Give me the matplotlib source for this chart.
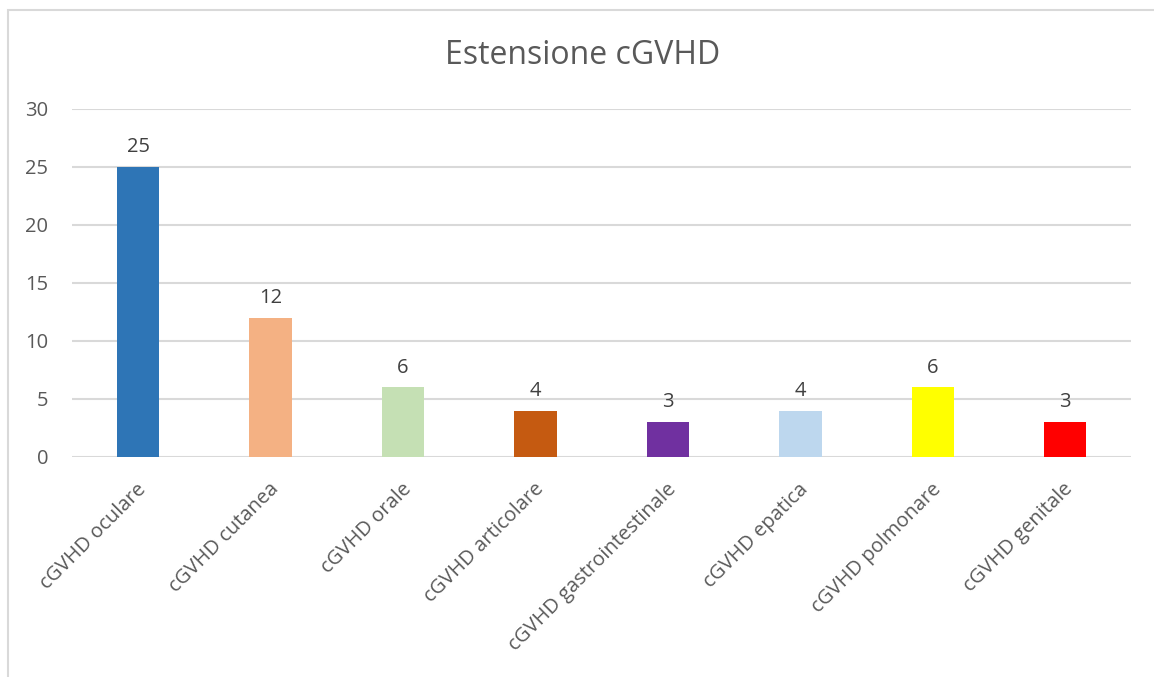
import matplotlib.pyplot as plt
import matplotlib.transforms as mtransforms
from matplotlib.patches import Rectangle

categories = ["cGVHD oculare", "cGVHD cutanea", "cGVHD orale", "cGVHD articolare",
              "cGVHD gastrointestinale", "cGVHD epatica", "cGVHD polmonare", "cGVHD genitale"]
values = [25, 12, 6, 4, 3, 4, 6, 3]
colors = ["#2E75B6", "#F4B183", "#C5E0B4", "#C55A11", "#7030A0", "#BDD7EE", "#FFFF00", "#FF0000"]
yticks = [0, 5, 10, 15, 20, 25, 30]

plt.rcParams['font.family'] = ['Open Sans', 'DejaVu Sans']
txt = "#595959"

fig = plt.figure(figsize=(11.54, 6.77), dpi=100)
ax = fig.add_axes([0.0624, 0.325, 0.918, 0.514])

x = range(len(categories))
ax.bar(x, values, width=0.32, color=colors, zorder=3)
for i, v in zip(x, values):
    ax.annotate(str(v), (i, v), xytext=(0, 7), textcoords="offset points",
                ha="center", va="bottom", fontsize=14.5, color="#404040")

ax.set_xlim(-0.5, len(categories) - 0.5)
ax.set_ylim(0, 30)
ax.set_yticks(yticks)
ax.yaxis.grid(True, color="#d9d9d9", linewidth=1.5, zorder=0)
ax.set_xticks(list(x))
ax.set_xticklabels(categories, rotation=45, ha="right", rotation_mode="anchor",
                   fontsize=14.5, color=txt)
ax.tick_params(axis="y", labelsize=14.5, labelcolor=txt, length=0, pad=17)
ax.tick_params(axis="x", length=0, pad=16)
shift = mtransforms.ScaledTranslation(-2 / 100, 0, fig.dpi_scale_trans)
for lab in ax.get_xticklabels():
    lab.set_transform(lab.get_transform() + shift)
for s in ax.spines.values():
    s.set_visible(False)

fig.text(0.505, 0.918, "Estensione cGVHD", ha="center", va="center", fontsize=23, color=txt)

# chart frame
fig.patches.append(Rectangle((8 / 1154, -0.1), 1.2, 1.1 - 10 / 677,
                             transform=fig.transFigure, fill=False,
                             edgecolor="#d9d9d9", linewidth=1.5))

fig.savefig("out.png", dpi=100)
